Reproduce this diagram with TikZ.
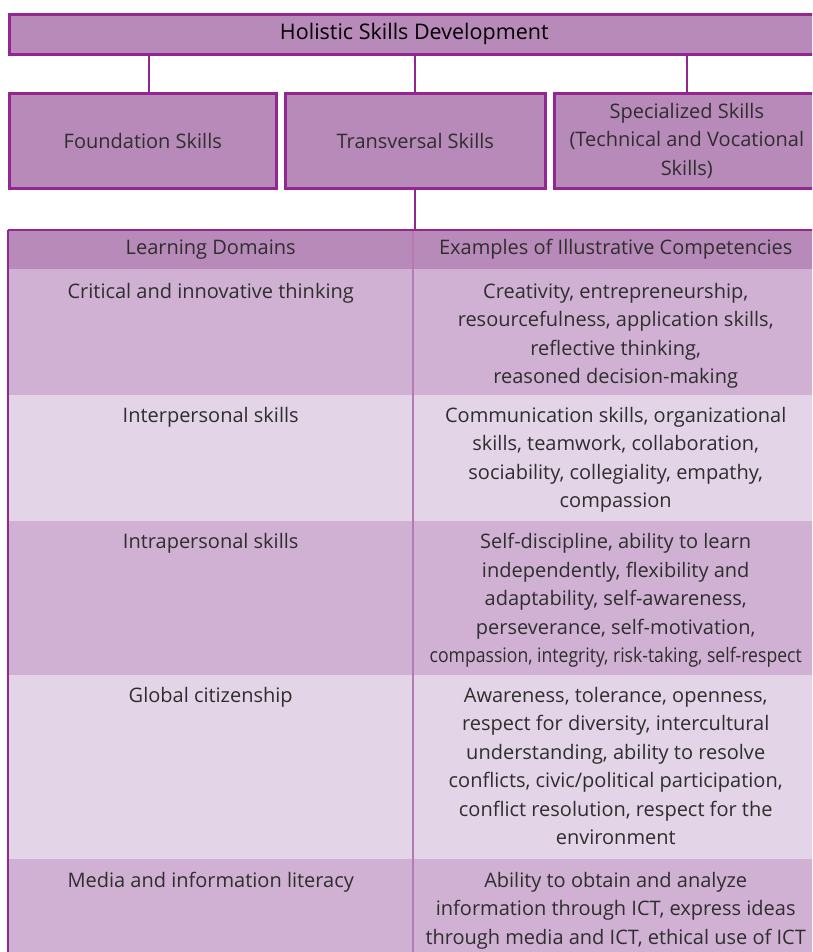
\documentclass[tikz,border=0pt]{standalone}
\usepackage{fontspec}
\setmainfont{Open Sans}
\usepackage{graphicx}
\usetikzlibrary{positioning,calc}

\definecolor{skillbox}{HTML}{B88AB9}
\definecolor{skillline}{HTML}{93278F}
\definecolor{rowdark}{HTML}{D0B1D3}
\definecolor{rowlight}{HTML}{E4D4E8}
\definecolor{colline}{HTML}{B47AB3}

\begin{document}
\begin{tikzpicture}[x=1pt, y=-1pt,
    every node/.style={font=\fontsize{20}{28.5}\selectfont, text=black!82},
    box/.style={draw=skillline, line width=2.6pt, fill=skillbox,
      inner sep=0pt, anchor=north west, align=center},
    cell/.style={fill=#1, inner sep=0pt, anchor=north west,
      minimum width=405pt},
    txt/.style={anchor=north, align=center, inner sep=0pt},
    link/.style={draw=skillline, line width=2.2pt}
  ]
  \clip (0,0) rectangle (812,952);
  \fill[white] (0,0) rectangle (812,952);

  % top level
  \node[box, minimum width=810pt, minimum height=40pt, text=black,
        font=\fontsize{21.5}{28}\selectfont] (holistic) at (8,13)
    {Holistic Skills Development};

  % the three kinds of skills
  \node[box, minimum width=267pt, minimum height=95pt] (foundation) at (8,92)
    {Foundation Skills};
  \node[box, minimum width=260pt, minimum height=95pt] (transversal) at (284,92)
    {Transversal Skills};
  \node[box, minimum width=265pt, minimum height=95pt] (specialized) at (553,92)
    {Specialized Skills\\(Technical and Vocational\\Skills)};

  \draw[link] ([xshift=6pt]foundation.north) -- ([xshift=6pt]foundation.north |- holistic.south);
  \draw[link] (transversal.north) -- (transversal.north |- holistic.south);
  \draw[link] (specialized.north) -- (specialized.north |- holistic.south);

  % table of learning domains
  \node[cell=skillbox, minimum height=39pt] (domHead) at (8,230) {};
  \node[cell=skillbox, minimum height=39pt] (compHead) at (413,230) {};
  \node[cell=rowdark, minimum height=126pt] (critical) at (8,269) {};
  \node[cell=rowdark, minimum height=126pt] (criticalEx) at (413,269) {};
  \node[cell=rowlight, minimum height=126pt] (inter) at (8,395) {};
  \node[cell=rowlight, minimum height=126pt] (interEx) at (413,395) {};
  \node[cell=rowdark, minimum height=154pt] (intra) at (8,521) {};
  \node[cell=rowdark, minimum height=154pt] (intraEx) at (413,521) {};
  \node[cell=rowlight, minimum height=184pt] (global) at (8,675) {};
  \node[cell=rowlight, minimum height=184pt] (globalEx) at (413,675) {};
  \node[cell=rowdark, minimum height=110pt] (media) at (8,859) {};
  \node[cell=rowdark, minimum height=110pt] (mediaEx) at (413,859) {};

  \node at (domHead) {Learning Domains};
  \node at (compHead) {Examples of Illustrative Competencies};

  \node[txt, below=14pt of critical.north] (criticalTxt) {Critical and innovative thinking};
  \node[txt, below=14pt of criticalEx.north] (criticalExTxt)
    {Creativity, entrepreneurship,\\resourcefulness, application skills,\\reflective thinking,\\reasoned decision-making};
  \node[txt, below=12pt of inter.north] (interTxt) {Interpersonal skills};
  \node[txt, below=12pt of interEx.north] (interExTxt)
    {Communication skills, organizational\\skills, teamwork, collaboration,\\sociability, collegiality, empathy,\\compassion};
  \node[txt, below=12pt of intra.north] (intraTxt) {Intrapersonal skills};
  \node[txt, below=12pt of intraEx.north] (intraExTxt)
    {Self-discipline, ability to learn\\independently, flexibility and\\adaptability, self-awareness,\\perseverance, self-motivation,\\
     \scalebox{0.88}[1]{compassion, integrity, risk-taking, self-respect}};
  \node[txt, below=12pt of global.north] (globalTxt) {Global citizenship};
  \node[txt, below=12pt of globalEx.north] (globalExTxt)
    {Awareness, tolerance, openness,\\respect for diversity, intercultural\\understanding, ability to resolve\\conflicts, civic/political participation,\\conflict resolution, respect for the\\environment};
  \node[txt, below=13pt of media.north] (mediaTxt) {Media and information literacy};
  \node[txt, below=13pt of mediaEx.north] (mediaExTxt)
    {Ability to obtain and analyze\\information through ICT, express ideas\\through media and ICT, ethical use of ICT};

  % table rules
  \draw[colline, line width=1.4pt] (compHead.north west) -- (mediaEx.south west);
  \draw[link, line width=2.6pt] (domHead.north west) -- (media.south west);
  \draw[link, line width=2.6pt] (domHead.north west) -- (compHead.north east);
  \draw[link] (transversal.south) -- (transversal.south |- domHead.north);
\end{tikzpicture}
\end{document}
